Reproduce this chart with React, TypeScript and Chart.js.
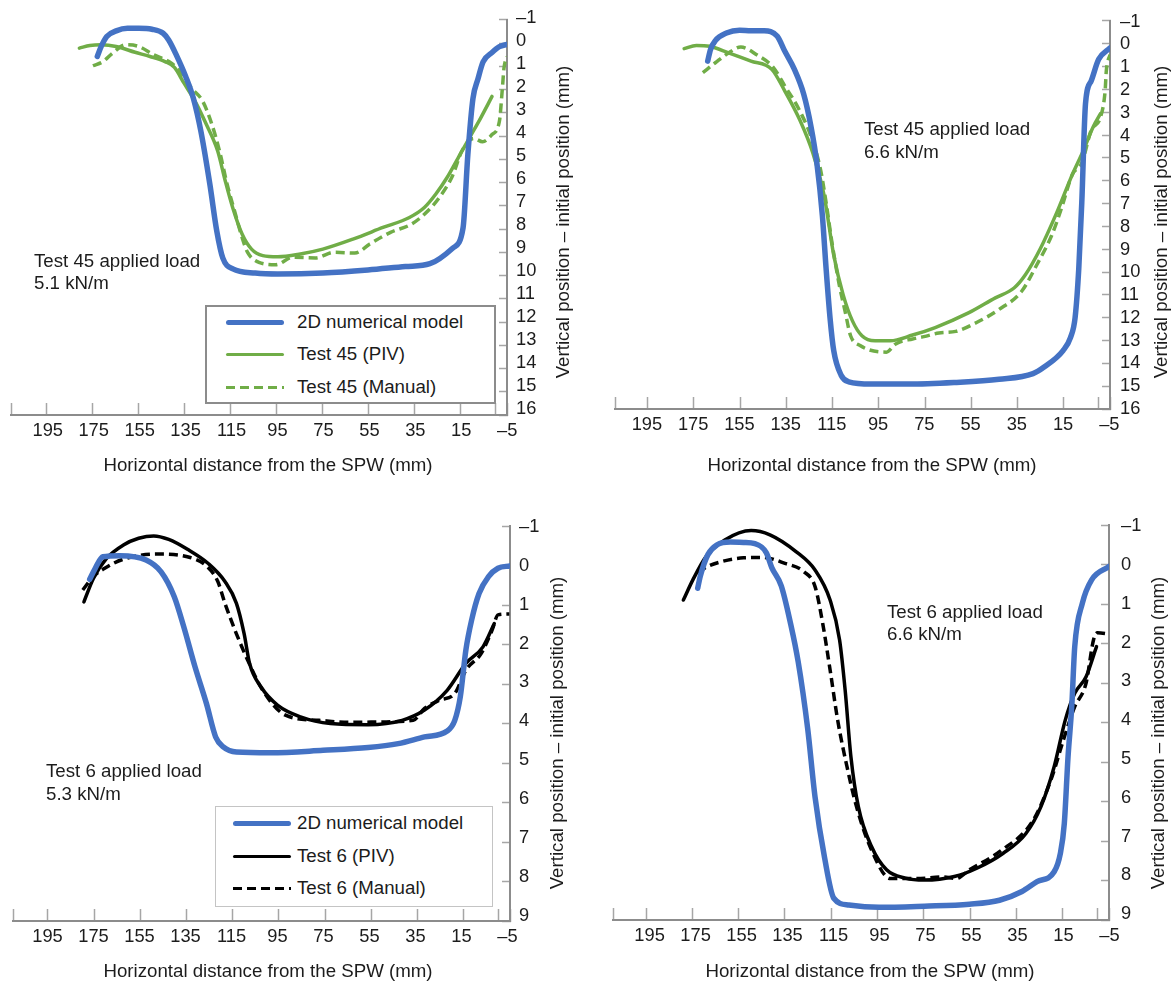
import { useEffect, useRef } from "react";
import { Chart, registerables } from "chart.js";

Chart.register(...registerables);

const FONT = '"Liberation Sans", Arial, sans-serif';
const BLUE = "#4472c4";
const GREEN = "#70ad47";
const BLACK = "#000000";
const AXIS = "#8c8c8c";
const TICK = "#a6a6a6";
const TEXT_COLOR = "#1c1c1c";

const xLabelValues = [195, 175, 155, 135, 115, 95, 75, 55, 35, 15, -5];
const xTickValues = [195, 175, 155, 135, 115, 95, 75, 55, 35, 15, 0, -5];
const yValues16 = [-1, 0, 1, 2, 3, 4, 5, 6, 7, 8, 9, 10, 11, 12, 13, 14, 15, 16];
const yValues9 = [-1, 0, 1, 2, 3, 4, 5, 6, 7, 8, 9];

// Test 45, 5.1 kN/m
const a1ModelX = [173, 171.3, 168.9, 164.8, 159.9, 155, 149.3, 144.4, 142, 138.7, 134.6, 131.3, 128, 124.1, 121.1, 118.5, 114.1, 104.4, 94.6, 75, 55.4, 39.1, 28.5, 18.5, 14.1, 12, 9.8, 7.6, 5.4, 1.5, -1.7, -5];
const a1ModelY = [0.57, 0.14, -0.29, -0.53, -0.64, -0.64, -0.6, -0.43, -0.14, 0.5, 1.43, 2.36, 3.79, 6.07, 8.08, 9.24, 9.71, 9.89, 9.93, 9.89, 9.76, 9.61, 9.49, 8.81, 7.95, 4.78, 2.38, 1.53, 0.8, 0.4, 0.15, 0.05];
const a1PivX = [180.8, 176.2, 171.3, 164.8, 156.6, 150.1, 143.6, 139.5, 135.4, 130.5, 125.6, 120.7, 117.4, 114.2, 110.1, 106, 101.1, 94.6, 84.8, 75, 61.9, 48.9, 37.4, 30.9, 26, 21.1, 16.2, 11.3, 6.4, 1.5];
const a1PivY = [0.21, 0.1, 0.07, 0.14, 0.39, 0.57, 0.79, 1.04, 1.71, 2.5, 3.5, 4.64, 5.93, 7.07, 8.21, 8.86, 9.14, 9.19, 9.07, 8.86, 8.43, 7.93, 7.5, 7.07, 6.5, 5.79, 4.93, 4.07, 3.21, 2.29];
const a1ManualX = [174.9, 170.5, 166.4, 160.7, 155, 148.5, 141.9, 137, 132.1, 127.2, 123.2, 119.9, 116.6, 113.4, 110.1, 107.7, 102.8, 95.4, 88.1, 78.3, 70.1, 61.1, 54.6, 45.6, 36.6, 30.9, 24.4, 18.7, 14.6, 9.4, 5.6, 1.5, -1.7, -3, -3.7, -5];
const a1ManualY = [0.97, 0.79, 0.43, 0.07, 0.14, 0.5, 0.79, 1.21, 1.93, 2.5, 3.5, 4.64, 6.07, 7.21, 8.36, 9, 9.43, 9.53, 9.21, 9.24, 9, 9.03, 8.64, 8.14, 7.79, 7.36, 6.64, 5.71, 4.64, 4.1, 4.24, 3.93, 3.36, 1.93, 1.07, 0.57];

// Test 45, 6.6 kN/m
const a2ModelX = [169, 167.8, 165.7, 160.9, 155.2, 150.3, 144.6, 138.9, 135.7, 131.6, 127.5, 124.3, 121.8, 119.4, 117.8, 116.1, 114.5, 111.3, 108, 98.3, 82, 62.5, 43, 28.3, 23.5, 15.3, 12.1, 10.1, 8.5, 7.2, 5.6, 3.1, -0.1, -5];
const a2ModelY = [0.76, 0.25, -0.14, -0.47, -0.59, -0.57, -0.57, -0.33, 0.32, 1.1, 2.2, 3.64, 5.22, 7.53, 9.84, 12, 13.44, 14.52, 14.81, 14.91, 14.91, 14.84, 14.7, 14.45, 14.16, 13.44, 12.87, 12, 9.84, 6.95, 2.63, 1.62, 0.68, 0.18];
const a2PivX = [179.2, 173.9, 168.2, 160, 150.3, 141.3, 135.7, 129.1, 123.5, 118.6, 114.5, 110.4, 106.4, 102.3, 96.6, 90.1, 80.4, 70.6, 56, 44.6, 36.5, 31.6, 25.1, 18.6, 11.3, 6.4, 2.3, -0.9];
const a2PivY = [0.21, 0.07, 0.11, 0.4, 0.76, 1.12, 2.06, 3.35, 4.79, 6.67, 9.26, 11, 12.14, 12.79, 13.01, 13.01, 12.76, 12.43, 11.78, 11.13, 10.7, 10.12, 8.97, 7.53, 5.73, 4.65, 3.64, 3.06];
const a2ManualX = [171.1, 165.7, 160, 154.7, 147.8, 140.5, 135.7, 130, 124.3, 120.2, 117.8, 115.3, 112.1, 109.6, 107.2, 103.1, 91.7, 87.7, 80.4, 75.5, 69, 61.7, 52.7, 43, 33.2, 26.7, 20.2, 16.1, 11.3, 7.2, 3.1, -0.9, -2.9, -3.4, -5];
const a2ManualY = [1.26, 0.83, 0.4, 0.14, 0.48, 1.05, 1.84, 2.78, 4.07, 5.51, 6.95, 8.68, 10.56, 11.71, 12.79, 13.22, 13.51, 13.15, 12.93, 12.83, 12.67, 12.6, 12.21, 11.64, 10.84, 9.69, 8.39, 7.24, 5.73, 5.22, 3.78, 3.21, 2.05, 1.19, 0.47];

// Test 6, 5.3 kN/m
const b1ModelX = [176.9, 174.5, 171.2, 163.9, 152.5, 146, 140.3, 136.2, 131.3, 126.4, 122.4, 119.1, 113.4, 98.7, 75.9, 56.4, 43.4, 32, 22.2, 18.9, 16.5, 14.1, 11.6, 8.4, 4.3, 0.2, -5];
const b1ModelY = [0.35, 0.07, -0.22, -0.25, -0.14, 0.16, 0.79, 1.55, 2.57, 3.49, 4.34, 4.59, 4.72, 4.74, 4.68, 4.61, 4.51, 4.34, 4.19, 3.92, 3.32, 2.14, 1.38, 0.71, 0.28, 0.07, 0.01];
const b1PivX = [179.4, 175.3, 169.6, 162.3, 155.7, 149.2, 142.7, 134.6, 125.6, 118.3, 113.4, 110.1, 107.7, 102.8, 95.5, 85.7, 72.7, 56.4, 41.7, 32, 22.2, 14.1, 6.7, 1.8];
const b1PivY = [0.92, 0.33, -0.18, -0.52, -0.69, -0.75, -0.66, -0.41, -0.05, 0.41, 0.96, 1.72, 2.48, 3.07, 3.54, 3.83, 4, 4.03, 3.92, 3.66, 3.16, 2.48, 2.06, 1.47];
const b1ManualX = [179.9, 175.3, 170.4, 162.3, 147.6, 134.6, 126.4, 121.5, 118.3, 113.4, 108.5, 102, 92.2, 77.6, 64.5, 49.9, 36.9, 32, 25.5, 18.9, 14.1, 7.5, 2.7, 0.2, -4.7];
const b1ManualY = [0.62, 0.28, 0.07, -0.16, -0.29, -0.22, 0.01, 0.4, 0.97, 1.73, 2.4, 3.16, 3.79, 3.92, 3.97, 3.96, 3.92, 3.62, 3.41, 3.24, 2.65, 2.23, 1.63, 1.25, 1.23];

// Test 6, 6.6 kN/m
const b2ModelX = [172.7, 171.6, 168.3, 164.3, 158.6, 152.9, 148, 143.1, 140.7, 136.6, 132.6, 129.3, 125.2, 122, 117.9, 113.9, 107.4, 94.3, 74.8, 55.3, 42.3, 32.6, 26.1, 18.7, 16, 14.3, 12.7, 11.1, 9.8, 6.5, 2.5, -5];
const b2ModelY = [0.6, 0.3, -0.25, -0.5, -0.57, -0.56, -0.53, -0.3, 0.08, 0.54, 1.49, 2.46, 4.15, 5.89, 7.42, 8.45, 8.62, 8.68, 8.65, 8.6, 8.5, 8.28, 8.03, 7.78, 7.31, 6.55, 4.87, 3.6, 2.08, 0.98, 0.39, 0.05];
const b2PivX = [178.9, 174.8, 169.1, 161, 149.6, 141.5, 130.1, 122, 115.5, 111.4, 109, 106.5, 103.3, 97.6, 91.1, 83, 74.8, 61.8, 52.1, 40.7, 30.9, 24.4, 18.7, 13.9, 9.8, 4.9, 0.4];
const b2PivY = [0.9, 0.39, -0.2, -0.62, -0.86, -0.75, -0.32, 0.14, 0.9, 1.91, 3.18, 4.87, 6.13, 7.14, 7.73, 7.94, 7.99, 7.9, 7.69, 7.31, 6.81, 6.13, 5.12, 3.94, 3.26, 2.84, 2.08];
const b2ManualX = [172.4, 169.1, 162.6, 152.9, 144.8, 135, 126.9, 122, 118.7, 115.5, 112.2, 108.2, 104.1, 97.6, 89.5, 78.1, 66.7, 61, 55.3, 42.3, 27.7, 19.6, 14.7, 9.8, 4.9, 1.7, 0, -5];
const b2ManualY = [0.22, 0.07, -0.07, -0.17, -0.18, -0.03, 0.18, 0.56, 1.49, 2.67, 3.95, 5.12, 6.13, 7.23, 7.95, 7.95, 7.91, 7.95, 7.73, 7.27, 6.47, 5.37, 4.44, 3.6, 3, 1.91, 1.73, 1.76];

const pts = (xs: number[], ys: number[]) => xs.map((x, i) => ({ x, y: ys[i] }));
const fmt = (v: number) => (v < 0 ? `\u2013${-v}` : `${v}`);

type Panel = {
  left: number;
  top: number;
  width: number;
  height: number;
  pad: { left: number; top: number; right: number; bottom: number };
  xRange: [number, number];
  xLabelRange: [number, number];
  yRange: [number, number];
  yLabelRange: [number, number];
  yTicks: number[];
  yLabelPad: number;
  color: string;
  series: { model: any[]; piv: any[]; manual: any[] };
};

const panels: Panel[] = [
  {
    left: 0, top: 0, width: 586, height: 490,
    pad: { left: 11, top: 18, right: 507, bottom: 415 },
    xRange: [210.5, -5], xLabelRange: [211, -4.9],
    yRange: [-1, 16], yLabelRange: [-0.93, 16.25], yTicks: yValues16, yLabelPad: 9,
    color: GREEN,
    series: { model: pts(a1ModelX, a1ModelY), piv: pts(a1PivX, a1PivY), manual: pts(a1ManualX, a1ManualY) },
  },
  {
    left: 586, top: 0, width: 586, height: 490,
    pad: { left: 29, top: 16, right: 524, bottom: 409 },
    xRange: [209.1, -5], xLabelRange: [208.8, -5.3],
    yRange: [-1, 16], yLabelRange: [-1.03, 16], yTicks: yValues16, yLabelPad: 10,
    color: GREEN,
    series: { model: pts(a2ModelX, a2ModelY), piv: pts(a2PivX, a2PivY), manual: pts(a2ManualX, a2ManualY) },
  },
  {
    left: 0, top: 490, width: 586, height: 492,
    pad: { left: 13, top: 36, right: 510, bottom: 431 },
    xRange: [210.1, -5], xLabelRange: [210, -6.1],
    yRange: [-1, 9], yLabelRange: [-1.02, 9.13], yTicks: yValues9, yLabelPad: 9,
    color: BLACK,
    series: { model: pts(b1ModelX, b1ModelY), piv: pts(b1PivX, b1PivY), manual: pts(b1ManualX, b1ManualY) },
  },
  {
    left: 586, top: 490, width: 586, height: 492,
    pad: { left: 27, top: 35, right: 523, bottom: 430 },
    xRange: [209.3, -5], xLabelRange: [210.9, -4.8],
    yRange: [-1, 9], yLabelRange: [-1.03, 9.15], yTicks: yValues9, yLabelPad: 12,
    color: BLACK,
    series: { model: pts(b2ModelX, b2ModelY), piv: pts(b2PivX, b2PivY), manual: pts(b2ManualX, b2ManualY) },
  },
];

function PanelChart({ panel }: { panel: Panel }) {
  const chartRef = useRef<HTMLCanvasElement>(null);

  useEffect(() => {
    if (!chartRef.current) return;
    const { pad, series, color } = panel;
    const line = { cubicInterpolationMode: "monotone" as const, pointRadius: 0, fill: false, borderCapStyle: "round" as const, borderJoinStyle: "round" as const };
    const chart = new Chart(chartRef.current, {
      type: "line",
      data: {
        datasets: [
          { label: "2D numerical model", data: series.model, borderColor: BLUE, borderWidth: 5.5, ...line },
          { label: "PIV", data: series.piv, borderColor: color, borderWidth: 3.5, ...line },
          { label: "Manual", data: series.manual, borderColor: color, borderWidth: 3.5, borderDash: [9, 5], ...line, borderCapStyle: "butt" as const },
        ],
      },
      options: {
        animation: false,
        responsive: false,
        layout: { padding: { left: pad.left, top: pad.top, right: 0, bottom: 0 } },
        plugins: { legend: { display: false }, tooltip: { enabled: false } },
        scales: {
          x: {
            type: "linear",
            position: "bottom",
            reverse: true,
            min: panel.xRange[0],
            max: panel.xRange[1],
            afterBuildTicks: (s: any) => {
              s.ticks = [panel.xRange[0], ...xTickValues].map((value) => ({ value }));
            },
            afterFit: (s: any) => { s.height = 0; },
            ticks: { display: false, autoSkip: false },
            grid: { drawOnChartArea: false, tickLength: -12, tickColor: TICK, tickWidth: 1.5 },
            border: { color: AXIS, width: 2 },
          },
          xLabels: {
            type: "linear",
            position: "bottom",
            reverse: true,
            min: panel.xLabelRange[0],
            max: panel.xLabelRange[1],
            afterBuildTicks: (s: any) => {
              s.ticks = xLabelValues.map((value) => ({ value }));
            },
            afterFit: (s: any) => { s.height = panel.height - pad.bottom; },
            ticks: {
              autoSkip: false, maxRotation: 0, padding: 5, color: TEXT_COLOR,
              font: { family: FONT, size: 18.3 },
              callback: (v: any) => fmt(Number(v)),
            },
            grid: { display: false, drawTicks: false },
            border: { display: false },
          },
          y: {
            type: "linear",
            position: "right",
            reverse: true,
            min: panel.yRange[0],
            max: panel.yRange[1],
            afterBuildTicks: (s: any) => {
              s.ticks = panel.yTicks.map((value) => ({ value }));
            },
            afterFit: (s: any) => { s.width = 0; },
            ticks: { display: false, autoSkip: false },
            grid: { drawOnChartArea: false, tickLength: -8, tickColor: TICK, tickWidth: 1.5 },
            border: { color: AXIS, width: 2 },
          },
          yLabels: {
            type: "linear",
            position: "right",
            reverse: true,
            min: panel.yLabelRange[0],
            max: panel.yLabelRange[1],
            afterBuildTicks: (s: any) => {
              s.ticks = panel.yTicks.map((value) => ({ value }));
            },
            afterFit: (s: any) => { s.width = panel.width - pad.right; },
            ticks: {
              autoSkip: false, padding: panel.yLabelPad, color: TEXT_COLOR, crossAlign: "near",
              font: { family: FONT, size: 18.3 },
              callback: (v: any) => fmt(Number(v)),
            },
            grid: { display: false, drawTicks: false },
            border: { display: false },
          },
        },
      },
    } as any);
    return () => chart.destroy();
  }, [panel]);

  return (
    <canvas
      ref={chartRef}
      width={panel.width}
      height={panel.height}
      style={{ position: "absolute", left: panel.left, top: panel.top, width: panel.width, height: panel.height }}
    />
  );
}

const textStyle = (x: number, y: number): React.CSSProperties => ({
  position: "absolute",
  left: x,
  top: y,
  transform: "translateY(-50%)",
  font: `18.7px ${FONT}`,
  color: TEXT_COLOR,
  whiteSpace: "nowrap",
});

function Note({ x, y, text }: { x: number; y: number; text: string }) {
  return <div style={textStyle(x, y)}>{text}</div>;
}

function XTitle({ x, y }: { x: number; y: number }) {
  return (
    <div style={{ ...textStyle(x, y), transform: "translate(-50%, -50%)" }}>
      Horizontal distance from the SPW (mm)
    </div>
  );
}

function YTitle({ x, y }: { x: number; y: number }) {
  return (
    <div style={{ ...textStyle(x, y), transform: "translate(-50%, -50%) rotate(-90deg)" }}>
      Vertical position – initial position (mm)
    </div>
  );
}

function Swatch({ x, y, w, color, h, dashed }: { x: number; y: number; w: number; color: string; h: number; dashed?: boolean }) {
  return (
    <div
      style={{
        position: "absolute",
        left: x,
        top: y - h / 2,
        width: w,
        height: h,
        borderRadius: dashed ? 0 : h / 2,
        background: dashed
          ? `repeating-linear-gradient(90deg, ${color} 0 9px, transparent 9px 14px)`
          : color,
      }}
    />
  );
}

export default function App() {
  return (
    <div style={{ position: "absolute", left: 0, top: 0, width: 1172, height: 982, background: "#fff", overflow: "hidden" }}>
      {panels.map((p, i) => (
        <PanelChart key={i} panel={p} />
      ))}

      <Note x={34} y={261} text="Test 45 applied load" />
      <Note x={34} y={283} text="5.1 kN/m" />
      <Note x={864} y={129} text="Test 45 applied load" />
      <Note x={864} y={152} text="6.6 kN/m" />
      <Note x={46} y={771} text="Test 6 applied load" />
      <Note x={46} y={794} text="5.3 kN/m" />
      <Note x={887} y={612} text="Test 6 applied load" />
      <Note x={887} y={634} text="6.6 kN/m" />

      <XTitle x={268} y={465} />
      <XTitle x={872} y={465} />
      <XTitle x={268} y={971} />
      <XTitle x={870} y={971} />
      <YTitle x={563} y={222} />
      <YTitle x={1161} y={222} />
      <YTitle x={557} y={733} />
      <YTitle x={1158} y={733} />

      <div style={{ position: "absolute", left: 205, top: 305, width: 287, height: 95, border: "2px solid #8c8c8c", background: "#fff" }} />
      <Swatch x={226} y={322} w={58} h={5} color={BLUE} />
      <Swatch x={226} y={354} w={58} h={3} color={GREEN} />
      <Swatch x={226} y={387} w={58} h={3} color={GREEN} dashed />
      <Note x={297} y={322} text="2D numerical model" />
      <Note x={297} y={354} text="Test 45 (PIV)" />
      <Note x={297} y={387} text="Test 45 (Manual)" />

      <div style={{ position: "absolute", left: 215, top: 806, width: 276, height: 99, border: "1px solid #c4c4c4", background: "#fff" }} />
      <Swatch x={233} y={823} w={58} h={5} color={BLUE} />
      <Swatch x={233} y={856} w={58} h={3} color={BLACK} />
      <Swatch x={233} y={888} w={58} h={3} color={BLACK} dashed />
      <Note x={297} y={823} text="2D numerical model" />
      <Note x={297} y={856} text="Test 6 (PIV)" />
      <Note x={297} y={888} text="Test 6 (Manual)" />
    </div>
  );
}
